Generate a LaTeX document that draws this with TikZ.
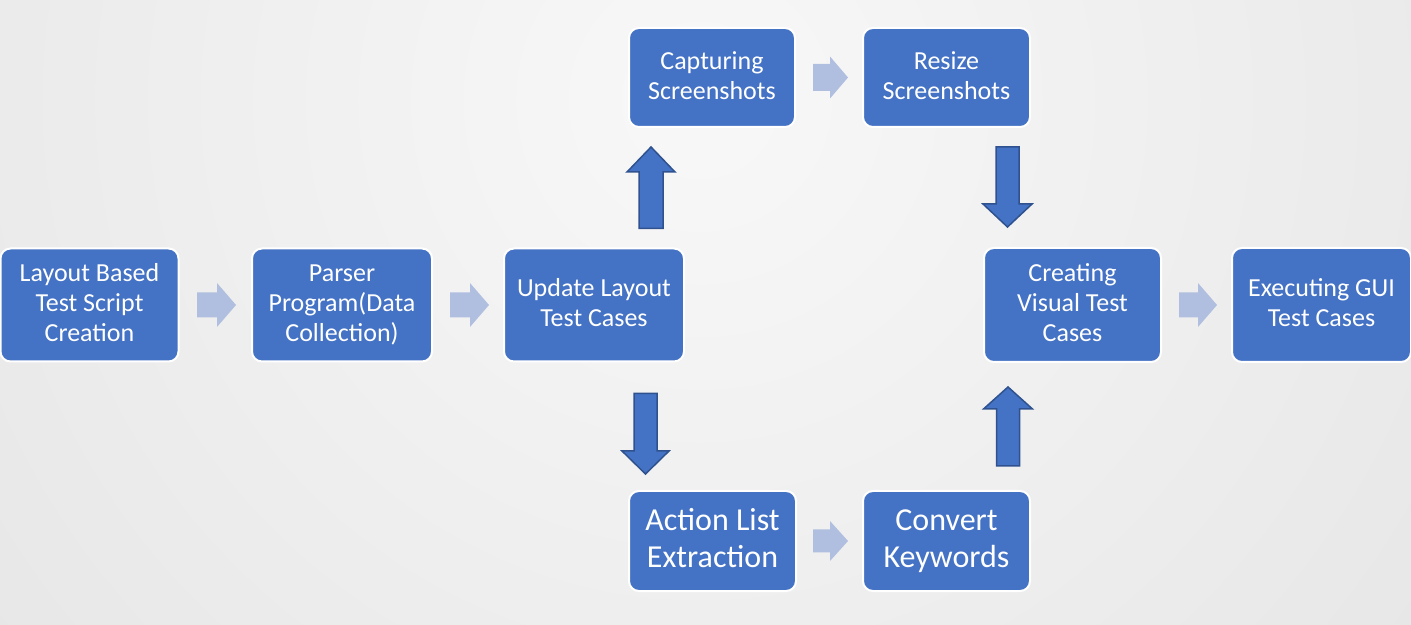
\documentclass[tikz,border=0pt]{standalone}
\usepackage{fontspec}
\setmainfont{Carlito}
\usetikzlibrary{calc}
\definecolor{boxblue}{HTML}{4472C4}
\definecolor{darkedge}{HTML}{2F528F}
\definecolor{lightarrow}{HTML}{B0BFE0}
\definecolor{bgin}{HTML}{F8F8F8}
\definecolor{bgout}{HTML}{D2D2D2}
\pgfdeclareradialshading{bgshade}{\pgfpoint{0bp}{0bp}}{color(0bp)=(bgin); color(50bp)=(bgout)}
\newcommand\boxstrut{\vrule width 0pt height 0.85\baselineskip depth 0.15\baselineskip}
\newcommand\blockarrow[6]{%
  \path[#1] let \p1=(#2), \p2=(#3), \n1={veclen(\x2-\x1,\y2-\y1)}, \n2={atan2(\y2-\y1,\x2-\x1)} in
  [shift={(\p1)}, rotate=\n2] (0,#4) -- ({\n1-#6},#4) -- ({\n1-#6},#5) -- (\n1,0) -- ({\n1-#6},-#5) -- ({\n1-#6},-#4) -- (0,-#4) -- cycle;}
\tikzset{
  procbox/.style={rectangle, rounded corners=10pt, fill=boxblue, draw=white, line width=2pt,
    text=white, align=center, font=\fontsize{26}{30}\selectfont, inner sep=2pt, outer sep=0pt,
    execute at begin node=\boxstrut, execute at end node=\boxstrut},
  bigtext/.style={font=\fontsize{32}{37}\selectfont},
  lightarr/.style={fill=lightarrow},
  darkarr/.style={fill=boxblue, draw=darkedge, line width=1.5pt, line join=miter},
}
\begin{document}
\begin{tikzpicture}[x=1pt,y=1pt]
\useasboundingbox (0,0) rectangle (1411,624);
\begin{scope}
  \clip (0,0) rectangle (1411,624);
  \shade[shading=bgshade] (700,524) circle (1000);
\end{scope}
% boxes
\node[procbox, minimum width=178, minimum height=113] (b1) at (89.5,319) {Layout Based\\Test Script\\Creation};
\node[procbox, minimum width=180, minimum height=113] (b2) at (342,319) {Parser\\Program(Data\\Collection)};
\node[procbox, minimum width=180, minimum height=113] (b3) at (594,319) {Update Layout\\Test Cases};
\node[procbox, minimum width=166, minimum height=99] (cap) at (712,546.5) {Capturing\\Screenshots};
\node[procbox, minimum width=167, minimum height=99] (res) at (946.5,546.5) {Resize\\Screenshots};
\node[procbox, bigtext, minimum width=167, minimum height=100] (act) at (712.5,83) {Action List\\Extraction};
\node[procbox, bigtext, minimum width=167, minimum height=100] (conv) at (946.5,83) {Convert\\Keywords};
\node[procbox, minimum width=177, minimum height=114] (cre) at (1072.5,319) {Creating\\Visual Test\\Cases};
\node[procbox, minimum width=179, minimum height=114] (exe) at (1321.5,319) {Executing GUI\\Test Cases};
% arrow end points
\coordinate (l1s) at ($(b1.east)+(18.5,0)$);  \coordinate (l1e) at ($(b2.west)-(16,0)$);
\coordinate (l2s) at ($(b2.east)+(18,0)$);    \coordinate (l2e) at ($(b3.west)-(15,0)$);
\coordinate (l3s) at ($(cap.east)+(18,0)$);   \coordinate (l3e) at ($(res.west)-(15,0)$);
\coordinate (l4s) at ($(act.east)+(17,0)$);   \coordinate (l4e) at ($(conv.west)-(15,0)$);
\coordinate (l5s) at ($(cre.east)+(18,0)$);   \coordinate (l5e) at ($(exe.west)-(15,0)$);
\coordinate (uas) at ($(b3.north)+(57,20)$);  \coordinate (uae) at ($(cap.south)+(-61,-20)$);
\coordinate (das) at ($(b3.south)+(51.5,-32)$); \coordinate (dae) at ($(act.north)+(-67,17)$);
\coordinate (dbs) at ($(res.south)+(61,-20)$); \coordinate (dbe) at ($(cre.north)+(-65,21)$);
\coordinate (ubs) at ($(conv.north)+(61.5,25)$); \coordinate (ube) at ($(cre.south)+(-64.5,-25)$);
% light arrows
\blockarrow{lightarr}{l1s}{l1e}{12.5}{22}{19}
\blockarrow{lightarr}{l2s}{l2e}{12.5}{22}{19}
\blockarrow{lightarr}{l3s}{l3e}{13.5}{21}{18}
\blockarrow{lightarr}{l4s}{l4e}{11.5}{20}{18}
\blockarrow{lightarr}{l5s}{l5e}{12.5}{22}{19}
% dark arrows
\blockarrow{darkarr}{uas}{uae}{12}{24}{25}
\blockarrow{darkarr}{das}{dae}{11.5}{23.5}{23}
\blockarrow{darkarr}{dbs}{dbe}{11.5}{24.5}{23}
\blockarrow{darkarr}{ubs}{ube}{11.5}{24.5}{22}
\end{tikzpicture}
\end{document}
